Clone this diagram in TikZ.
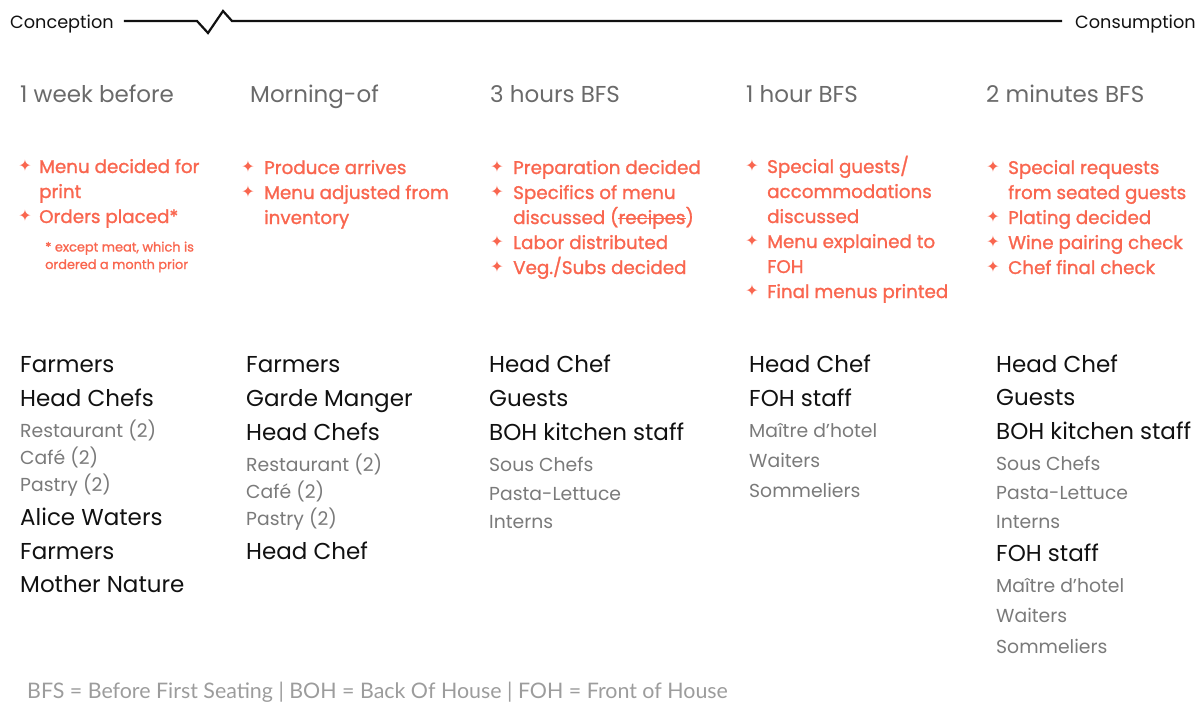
\documentclass[tikz,border=0pt]{standalone}
\usepackage{fontspec}
\setmainfont{Poppins}
\newfontfamily\symfnt{DejaVu Sans}
\newfontfamily\medfnt[FakeBold=1.3]{Poppins}
\newfontfamily\footfnt{Lato}
\definecolor{coral}{HTML}{F9664F}
\definecolor{hdrgray}{HTML}{6A6A6A}
\definecolor{subgray}{HTML}{7A7A7A}
\definecolor{footgray}{HTML}{9C9C9C}
\definecolor{ink}{HTML}{111111}
\newsavebox\strkbox
\newcommand\strk[1]{\sbox\strkbox{#1}\rlap{\rule[0.27em]{\wd\strkbox}{1.3pt}}\usebox\strkbox}
\tikzset{
  endlab/.style={inner sep=0pt, anchor=base west, text=ink, font=\fontsize{17.7}{20}\selectfont},
  hdr/.style={inner sep=0pt, anchor=base west, text=hdrgray, font=\fontsize{23}{26}\selectfont},
  task/.style={inner sep=0pt, anchor=base west, text=coral, font=\medfnt\fontsize{18.3}{20}\selectfont},
  taskstar/.style={inner sep=0pt, anchor=center, text=coral, font=\symfnt\fontsize{16}{17}\selectfont},
  note/.style={inner sep=0pt, anchor=base west, text=coral, font=\medfnt\fontsize{12.9}{14}\selectfont},
  role/.style={inner sep=0pt, anchor=base west, text=ink, font=\fontsize{23}{26}\selectfont},
  sub/.style={inner sep=0pt, anchor=base west, text=subgray, font=\fontsize{18.8}{21}\selectfont},
  foot/.style={inner sep=0pt, anchor=base west, text=footgray, font=\footfnt\fontsize{21.4}{24}\selectfont},
  timeline/.style={line width=2.2pt, draw=ink}
}
\begin{document}
\begin{tikzpicture}[x=1pt,y=-1pt]
\useasboundingbox (0,0) rectangle (1203,704);
% timeline
\node[endlab] (conc) at (10,28) {Conception};
\node[endlab] (cons) at (1075,28) {Consumption};
\coordinate (z1) at (197,21);
\coordinate (z2) at (208,33);
\coordinate (z3) at (223,11);
\coordinate (z4) at (232,21);
\draw[timeline] ([xshift=10pt]conc.east |- z1) -- (z1) -- (z2) -- (z3) -- (z4) -- ([xshift=-13pt]cons.west |- z4);
% headers
\node[hdr] (h1) at (20,102) {1 week before};
\node[hdr] (h2) at (250,102) {Morning-of};
\node[hdr] (h3) at (490,102) {3 hours BFS};
\node[hdr] (h4) at (746,102) {1 hour BFS};
\node[hdr] (h5) at (986,102) {2 minutes BFS};
% column 1 tasks
\node[taskstar] (s11) at (25,166) {✦};
\node[task] (t11) at (39,173) {Menu decided for};
\node[task] (t12) at (39,198) {print};
\node[taskstar] (s12) at (25,216) {✦};
\node[task] (t13) at (39,223) {Orders placed*};
\node[note] (n1) at (45,251.5) {* except meat, which is};
\node[note] (n2) at (45,269) {ordered a month prior};
% column 2 tasks
\node[taskstar] (s21) at (248,167) {✦};
\node[task] (t21) at (264,174) {Produce arrives};
\node[taskstar] (s22) at (248,192) {✦};
\node[task] (t22) at (264,199) {Menu adjusted from};
\node[task] (t23) at (264,224) {inventory};
% column 3 tasks
\node[taskstar] (s31) at (497,167) {✦};
\node[task] (t31) at (513,174) {Preparation decided};
\node[taskstar] (s32) at (497,192) {✦};
\node[task] (t32) at (513,199) {Specifics of menu};
\node[task] (t33) at (513,224) {discussed (\strk{recipes})};
\node[taskstar] (s33) at (497,242) {✦};
\node[task] (t34) at (513,249) {Labor distributed};
\node[taskstar] (s34) at (497,267) {✦};
\node[task] (t35) at (513,274) {Veg./Subs decided};
% column 4 tasks
\node[taskstar] (s41) at (752,166) {✦};
\node[task] (t41) at (767,173) {Special guests/};
\node[task] (t42) at (767,198) {accommodations};
\node[task] (t43) at (767,223) {discussed};
\node[taskstar] (s42) at (752,241) {✦};
\node[task] (t44) at (767,248) {Menu explained to};
\node[task] (t45) at (767,273) {FOH};
\node[taskstar] (s43) at (752,291) {✦};
\node[task] (t46) at (767,298) {Final menus printed};
% column 5 tasks
\node[taskstar] (s51) at (993,167) {✦};
\node[task] (t51) at (1008,174) {Special requests};
\node[task] (t52) at (1008,199) {from seated guests};
\node[taskstar] (s52) at (993,217) {✦};
\node[task] (t53) at (1008,224) {Plating decided};
\node[taskstar] (s53) at (993,242) {✦};
\node[task] (t54) at (1008,249) {Wine pairing check};
\node[taskstar] (s54) at (993,267) {✦};
\node[task] (t55) at (1008,274) {Chef final check};
% column 1 roles
\node[role] (r11) at (20,372.5) {Farmers};
\node[role] (r12) at (20,406.5) {Head Chefs};
\node[sub] (r13) at (20,437.7) {Restaurant (2)};
\node[sub] (r14) at (20,464.7) {Café (2)};
\node[sub] (r15) at (20,491.7) {Pastry (2)};
\node[role] (r16) at (20,525.5) {Alice Waters};
\node[role] (r17) at (20,559) {Farmers};
\node[role] (r18) at (20,592.5) {Mother Nature};
% column 2 roles
\node[role] (r21) at (246,372.5) {Farmers};
\node[role] (r22) at (246,406.5) {Garde Manger};
\node[role] (r23) at (246,440.5) {Head Chefs};
\node[sub] (r24) at (246,471.7) {Restaurant (2)};
\node[sub] (r25) at (246,498.7) {Café (2)};
\node[sub] (r26) at (246,525.7) {Pastry (2)};
\node[role] (r27) at (246,559.5) {Head Chef};
% column 3 roles
\node[role] (r31) at (489,372.5) {Head Chef};
\node[role] (r32) at (489,406.5) {Guests};
\node[role] (r33) at (489,440.5) {BOH kitchen staff};
\node[sub] (r34) at (489,471.7) {Sous Chefs};
\node[sub] (r35) at (489,500.7) {Pasta-Lettuce};
\node[sub] (r36) at (489,528.7) {Interns};
% column 4 roles
\node[role] (r41) at (749,372.5) {Head Chef};
\node[role] (r42) at (749,406.5) {FOH staff};
\node[sub] (r43) at (749,437.7) {Maître d’hotel};
\node[sub] (r44) at (749,467.7) {Waiters};
\node[sub] (r45) at (749,497.7) {Sommeliers};
% column 5 roles
\node[role] (r51) at (996,372.3) {Head Chef};
\node[role] (r52) at (996,405.7) {Guests};
\node[role] (r53) at (996,439.3) {BOH kitchen staff};
\node[sub] (r54) at (996,470) {Sous Chefs};
\node[sub] (r55) at (996,499.3) {Pasta-Lettuce};
\node[sub] (r56) at (996,528.3) {Interns};
\node[role] (r57) at (996,561.7) {FOH staff};
\node[sub] (r58) at (996,592.3) {Maître d’hotel};
\node[sub] (r59) at (996,622.7) {Waiters};
\node[sub] (r510) at (996,653.3) {Sommeliers};
% footer
\node[foot] (ft) at (27,698.5) {BFS = Before First Seating | BOH = Back Of House | FOH = Front of House};
\end{tikzpicture}
\end{document}
